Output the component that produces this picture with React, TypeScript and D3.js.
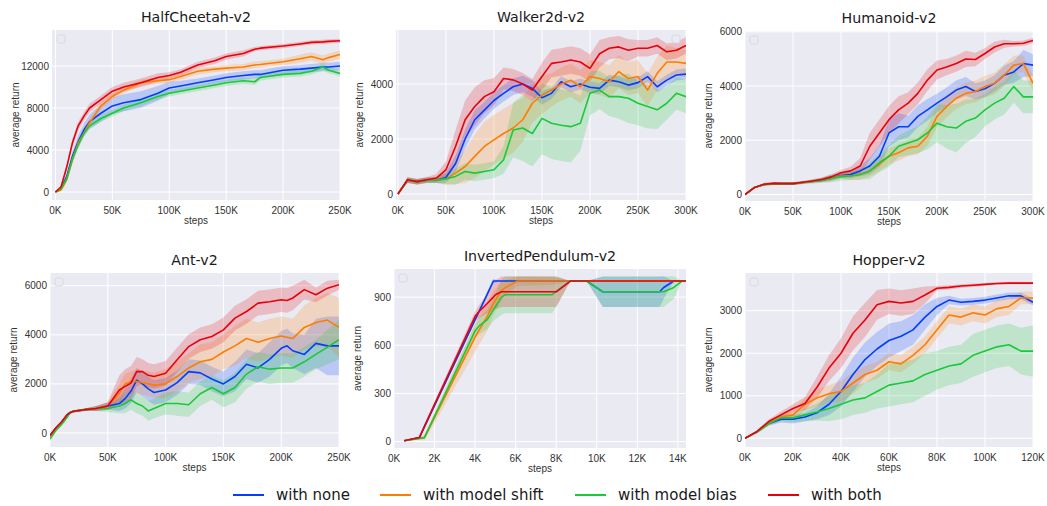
import React from 'react';
import * as d3 from 'd3';

// seaborn "bright" colours, one per variant
const seriesNames = ['with none', 'with model shift', 'with model bias', 'with both'];
const seriesColors = ['#023eff', '#ff7c00', '#1ac938', '#e8000b'];

// ---- HalfCheetah-v2 (steps in K, return in thousands)
const hcSteps = [0, 5, 10, 15, 20, 25, 30, 40, 50, 60, 75, 90, 100, 110, 125, 140, 150, 165, 175, 180, 200, 215, 225, 235, 240, 250];
const hcNone = [0, 0.3, 1.5, 3.4, 4.8, 5.9, 6.7, 7.5, 8.2, 8.5, 8.8, 9.4, 9.9, 10.1, 10.4, 10.7, 10.9, 11.1, 11.2, 11.2, 11.6, 11.7, 11.8, 11.9, 11.9, 12.0];
const hcShift = [0, 0.2, 1.2, 3.1, 4.7, 5.6, 6.6, 8.2, 9.1, 9.7, 10.4, 10.6, 10.7, 11.0, 11.5, 11.7, 11.8, 11.9, 12.1, 12.15, 12.4, 12.7, 12.9, 12.6, 12.8, 13.1];
const hcBias = [0, 0.3, 1.3, 3.2, 4.5, 5.6, 6.3, 7.0, 7.5, 8.0, 8.5, 9.1, 9.4, 9.6, 9.9, 10.2, 10.4, 10.6, 10.5, 10.9, 11.2, 11.3, 11.5, 11.9, 11.6, 11.3];
const hcBoth = [0, 0.5, 2.4, 4.7, 6.3, 7.2, 8.0, 8.8, 9.6, 10.0, 10.4, 10.9, 11.1, 11.4, 12.1, 12.5, 12.9, 13.2, 13.6, 13.7, 13.9, 14.1, 14.25, 14.3, 14.35, 14.4];
const hcNoneSd = [0, 0.1, 0.3, 0.5, 0.6, 0.6, 0.7, 0.8, 0.8, 0.8, 0.8, 0.7, 0.6, 0.5, 0.4, 0.4, 0.4, 0.4, 0.4, 0.4, 0.4, 0.4, 0.4, 0.4, 0.4, 0.4];
const hcShiftSd = [0, 0.1, 0.3, 0.4, 0.4, 0.4, 0.4, 0.4, 0.3, 0.3, 0.3, 0.3, 0.3, 0.3, 0.3, 0.3, 0.3, 0.3, 0.3, 0.3, 0.3, 0.4, 0.4, 0.4, 0.4, 0.4];
const hcBiasSd = [0, 0.1, 0.3, 0.4, 0.4, 0.3, 0.3, 0.3, 0.3, 0.3, 0.3, 0.3, 0.3, 0.3, 0.3, 0.3, 0.3, 0.3, 0.3, 0.3, 0.3, 0.3, 0.3, 0.3, 0.3, 0.3];
const hcBothSd = [0, 0.1, 0.3, 0.4, 0.4, 0.4, 0.4, 0.4, 0.4, 0.4, 0.4, 0.4, 0.3, 0.3, 0.3, 0.3, 0.3, 0.3, 0.2, 0.2, 0.2, 0.2, 0.2, 0.2, 0.2, 0.2];

// ---- Walker2d-v2
const wkSteps = d3.range(0, 301, 10);
const wkNone = [0, 0.5, 0.45, 0.5, 0.5, 0.6, 1.1, 2.0, 2.7, 3.05, 3.4, 3.66, 3.9, 4.0, 3.84, 3.5, 3.66, 4.08, 3.9, 4.0, 3.88, 3.84, 4.14, 4.08, 3.96, 4.05, 4.27, 3.9, 4.14, 4.33, 4.36];
const wkShift = [0, 0.5, 0.45, 0.5, 0.5, 0.55, 0.76, 1.0, 1.37, 1.73, 1.97, 2.2, 2.4, 2.7, 3.3, 3.6, 3.78, 4.0, 4.14, 3.9, 4.27, 4.2, 4.08, 4.45, 4.2, 4.27, 3.78, 4.39, 4.8, 4.8, 4.75];
const wkBias = [0, 0.5, 0.45, 0.5, 0.5, 0.55, 0.64, 0.82, 0.76, 0.82, 0.88, 1.24, 2.33, 2.4, 2.2, 2.75, 2.57, 2.5, 2.45, 2.57, 3.66, 3.78, 3.54, 3.54, 3.48, 3.3, 3.18, 3.06, 3.3, 3.66, 3.54];
const wkBoth = [0, 0.52, 0.45, 0.52, 0.58, 0.88, 1.73, 2.7, 3.18, 3.54, 3.72, 4.2, 4.15, 4.0, 3.78, 4.27, 4.75, 4.8, 4.87, 4.8, 4.57, 5.1, 5.3, 5.35, 5.23, 5.3, 5.3, 5.4, 5.17, 5.23, 5.4];
const wkNoneSd = [0, 0.1, 0.1, 0.1, 0.1, 0.2, 0.3, 0.35, 0.35, 0.3, 0.3, 0.3, 0.3, 0.3, 0.3, 0.25, 0.2, 0.2, 0.2, 0.2, 0.2, 0.2, 0.2, 0.2, 0.2, 0.2, 0.2, 0.2, 0.2, 0.2, 0.2];
const wkShiftSd = [0, 0.1, 0.1, 0.1, 0.1, 0.2, 0.4, 0.6, 0.8, 0.9, 0.9, 0.9, 0.9, 0.8, 0.7, 0.7, 0.6, 0.6, 0.6, 0.6, 0.6, 0.6, 0.6, 0.6, 0.6, 0.6, 0.6, 0.6, 0.6, 0.5, 0.5];
const wkBiasSd = [0, 0.1, 0.1, 0.1, 0.1, 0.2, 0.3, 0.3, 0.3, 0.3, 0.3, 0.5, 1.0, 1.2, 1.2, 1.3, 1.3, 1.3, 1.3, 1.0, 0.8, 0.7, 0.7, 0.8, 0.9, 0.8, 0.8, 0.7, 0.6, 0.6, 0.6];
const wkBothSd = [0, 0.1, 0.1, 0.1, 0.15, 0.3, 0.6, 0.7, 0.7, 0.6, 0.5, 0.4, 0.4, 0.4, 0.4, 0.5, 0.5, 0.5, 0.5, 0.5, 0.5, 0.5, 0.4, 0.4, 0.4, 0.3, 0.3, 0.3, 0.3, 0.3, 0.3];

// ---- Humanoid-v2
const hmSteps = d3.range(0, 301, 10);
const hmNone = [0, 0.26, 0.37, 0.4, 0.4, 0.4, 0.44, 0.48, 0.53, 0.6, 0.7, 0.74, 0.87, 1.05, 1.41, 2.27, 2.5, 2.5, 2.88, 3.12, 3.37, 3.6, 3.85, 3.98, 3.8, 3.9, 4.1, 4.4, 4.52, 4.83, 4.77];
const hmShift = [0, 0.26, 0.37, 0.4, 0.4, 0.4, 0.44, 0.48, 0.53, 0.6, 0.68, 0.68, 0.74, 0.87, 1.11, 1.41, 1.54, 1.72, 1.78, 2.15, 2.88, 3.24, 3.55, 3.73, 3.8, 3.98, 4.1, 4.4, 4.77, 4.83, 4.1];
const hmBias = [0, 0.26, 0.37, 0.4, 0.4, 0.4, 0.44, 0.48, 0.53, 0.6, 0.66, 0.68, 0.74, 0.87, 1.17, 1.41, 1.78, 1.9, 2.02, 2.27, 2.63, 2.5, 2.45, 2.7, 2.82, 3.12, 3.37, 3.55, 3.98, 3.6, 3.6];
const hmBoth = [0, 0.26, 0.38, 0.41, 0.4, 0.4, 0.45, 0.5, 0.55, 0.65, 0.8, 0.87, 1.05, 1.78, 2.27, 2.76, 3.12, 3.37, 3.73, 4.22, 4.59, 4.7, 4.83, 5.0, 4.98, 5.2, 5.44, 5.56, 5.56, 5.58, 5.68];
const hmNoneSd = [0, 0.03, 0.05, 0.05, 0.05, 0.05, 0.05, 0.05, 0.08, 0.1, 0.1, 0.15, 0.2, 0.3, 0.4, 0.5, 0.5, 0.4, 0.4, 0.4, 0.35, 0.35, 0.35, 0.35, 0.3, 0.3, 0.3, 0.35, 0.4, 0.5, 0.4];
const hmShiftSd = [0, 0.03, 0.05, 0.05, 0.05, 0.05, 0.05, 0.05, 0.08, 0.1, 0.1, 0.15, 0.2, 0.2, 0.25, 0.3, 0.3, 0.3, 0.3, 0.35, 0.4, 0.4, 0.4, 0.4, 0.4, 0.4, 0.4, 0.4, 0.35, 0.3, 0.3];
const hmBiasSd = [0, 0.03, 0.05, 0.05, 0.05, 0.05, 0.05, 0.08, 0.1, 0.15, 0.15, 0.15, 0.2, 0.3, 0.35, 0.4, 0.4, 0.45, 0.5, 0.6, 0.7, 0.8, 0.9, 0.8, 0.7, 0.6, 0.6, 0.6, 0.6, 0.6, 0.6];
const hmBothSd = [0, 0.03, 0.05, 0.05, 0.05, 0.05, 0.05, 0.05, 0.08, 0.1, 0.1, 0.15, 0.3, 0.5, 0.5, 0.5, 0.5, 0.4, 0.4, 0.4, 0.35, 0.3, 0.3, 0.3, 0.25, 0.2, 0.2, 0.15, 0.1, 0.1, 0.1];

// ---- Ant-v2
const antSteps = [0, 5, 10, 15, 17, 20, 30, 40, 50, 60, 65, 70, 75, 80, 85, 90, 100, 110, 120, 130, 140, 150, 160, 170, 180, 190, 200, 205, 210, 220, 230, 240, 250];
const antNone = [-0.1, 0.2, 0.45, 0.75, 0.82, 0.88, 0.95, 1.0, 1.1, 1.2, 1.4, 1.7, 2.15, 2.0, 1.8, 1.65, 1.75, 2.05, 2.5, 2.45, 2.2, 2.0, 2.3, 2.8, 2.65, 3.0, 3.45, 3.55, 3.35, 3.2, 3.65, 3.55, 3.55];
const antShift = [-0.15, 0.15, 0.4, 0.7, 0.8, 0.88, 0.95, 1.0, 1.1, 1.6, 2.0, 2.1, 2.1, 2.05, 2.0, 1.95, 2.0, 2.3, 2.65, 2.9, 3.0, 3.3, 3.55, 3.85, 3.7, 3.85, 3.95, 3.9, 3.85, 4.3, 4.5, 4.6, 4.3];
const antBias = [-0.25, 0.1, 0.35, 0.65, 0.8, 0.88, 0.95, 1.0, 1.0, 1.1, 1.2, 1.35, 1.2, 1.1, 0.9, 1.0, 1.2, 1.2, 1.15, 1.6, 1.85, 1.6, 1.85, 2.4, 2.7, 2.6, 2.65, 2.65, 2.65, 2.9, 3.2, 3.5, 3.8];
const antBoth = [-0.1, 0.2, 0.45, 0.75, 0.82, 0.88, 0.95, 1.0, 1.1, 1.75, 1.9, 2.03, 2.5, 2.5, 2.35, 2.3, 2.43, 2.98, 3.52, 3.8, 3.93, 4.2, 4.68, 4.95, 5.29, 5.35, 5.43, 5.4, 5.5, 5.84, 5.63, 5.9, 6.04];
const antNoneSd = [0.05, 0.05, 0.05, 0.05, 0.05, 0.05, 0.05, 0.1, 0.15, 0.3, 0.4, 0.5, 0.5, 0.5, 0.5, 0.5, 0.5, 0.5, 0.5, 0.5, 0.5, 0.5, 0.6, 0.6, 0.6, 0.7, 0.7, 0.7, 0.7, 0.8, 1.0, 1.2, 1.2];
const antShiftSd = [0.05, 0.05, 0.05, 0.05, 0.05, 0.05, 0.05, 0.1, 0.15, 0.4, 0.4, 0.4, 0.5, 0.5, 0.5, 0.5, 0.6, 0.6, 0.6, 0.7, 0.7, 0.7, 0.8, 0.8, 0.8, 0.8, 0.8, 0.8, 0.8, 0.9, 1.0, 1.1, 1.2];
const antBiasSd = [0.05, 0.05, 0.05, 0.05, 0.05, 0.05, 0.05, 0.1, 0.15, 0.3, 0.4, 0.4, 0.4, 0.4, 0.4, 0.4, 0.45, 0.5, 0.5, 0.5, 0.5, 0.55, 0.6, 0.6, 0.6, 0.6, 0.6, 0.6, 0.6, 0.6, 0.6, 0.7, 0.8];
const antBothSd = [0.05, 0.05, 0.05, 0.05, 0.05, 0.05, 0.05, 0.1, 0.15, 0.6, 0.7, 0.7, 0.6, 0.5, 0.5, 0.5, 0.5, 0.5, 0.5, 0.5, 0.5, 0.5, 0.5, 0.5, 0.5, 0.5, 0.5, 0.5, 0.5, 0.4, 0.3, 0.3, 0.2];

// ---- InvertedPendulum-v2 (return in raw units)
const ipSteps = [0.5, 1.25, 1.5, 4.0, 4.2, 4.6, 4.9, 5.0, 5.3, 5.5, 6.1, 7.8, 8.0, 8.7, 9.5, 10.3, 13.1, 13.3, 13.8, 14.2, 14.4];
const ipNone = [5, 25, 92, 759, 812, 919, 1000, 1000, 1000, 1000, 1000, 1000, 1000, 1000, 1000, 933, 933, 960, 1000, 1000, 1000];
const ipShift = [5, 20, 25, 650, 695, 780, 860, 880, 940, 960, 1000, 1000, 1000, 1000, 1000, 1000, 1000, 1000, 1000, 1000, 1000];
const ipBias = [5, 20, 25, 690, 720, 760, 820, 840, 900, 915, 915, 915, 935, 1000, 1000, 933, 933, 933, 960, 1000, 1000];
const ipBoth = [5, 25, 95, 780, 810, 860, 900, 915, 933, 933, 933, 933, 933, 1000, 1000, 1000, 1000, 1000, 1000, 1000, 1000];
const ipNoneSd = [0, 5, 10, 15, 15, 15, 15, 10, 0, 0, 0, 0, 0, 0, 0, 95, 95, 70, 0, 0, 0];
const ipShiftSd = [0, 5, 20, 90, 90, 90, 80, 70, 60, 45, 30, 25, 20, 0, 0, 0, 0, 0, 0, 0, 0];
const ipBiasSd = [0, 5, 10, 40, 50, 60, 70, 80, 110, 115, 115, 115, 95, 0, 0, 95, 95, 95, 70, 0, 0];
const ipBothSd = [0, 5, 15, 30, 40, 60, 80, 90, 95, 95, 95, 95, 95, 0, 0, 0, 0, 0, 0, 0, 0];

// ---- Hopper-v2
const hpSteps = d3.range(0, 121, 5);
const hpNone = [0, 0.15, 0.35, 0.45, 0.45, 0.5, 0.6, 0.8, 1.1, 1.5, 1.85, 2.1, 2.3, 2.4, 2.55, 2.85, 3.1, 3.25, 3.2, 3.22, 3.25, 3.3, 3.35, 3.35, 3.2];
const hpShift = [0, 0.15, 0.35, 0.5, 0.55, 0.8, 0.95, 1.05, 1.1, 1.3, 1.5, 1.6, 1.8, 1.75, 1.95, 2.2, 2.55, 2.9, 2.85, 2.95, 2.9, 3.05, 3.1, 3.3, 3.3];
const hpBias = [0, 0.15, 0.35, 0.48, 0.48, 0.55, 0.62, 0.7, 0.8, 0.9, 0.95, 1.1, 1.25, 1.3, 1.35, 1.5, 1.6, 1.7, 1.75, 1.95, 2.05, 2.15, 2.2, 2.05, 2.05];
const hpBoth = [0, 0.16, 0.4, 0.55, 0.7, 0.82, 1.2, 1.65, 2.0, 2.47, 2.78, 3.14, 3.22, 3.18, 3.22, 3.37, 3.53, 3.55, 3.58, 3.6, 3.62, 3.64, 3.65, 3.65, 3.65];
const hpNoneSd = [0, 0.03, 0.05, 0.08, 0.1, 0.1, 0.15, 0.25, 0.35, 0.4, 0.4, 0.4, 0.4, 0.35, 0.35, 0.3, 0.2, 0.1, 0.08, 0.08, 0.08, 0.08, 0.08, 0.08, 0.08];
const hpShiftSd = [0, 0.03, 0.05, 0.08, 0.1, 0.15, 0.2, 0.2, 0.25, 0.25, 0.2, 0.2, 0.2, 0.2, 0.2, 0.2, 0.2, 0.2, 0.2, 0.2, 0.2, 0.2, 0.2, 0.15, 0.15];
const hpBiasSd = [0, 0.03, 0.05, 0.08, 0.1, 0.15, 0.2, 0.3, 0.35, 0.35, 0.35, 0.4, 0.5, 0.5, 0.5, 0.5, 0.45, 0.45, 0.45, 0.5, 0.5, 0.5, 0.5, 0.55, 0.6];
const hpBothSd = [0, 0.03, 0.05, 0.08, 0.1, 0.15, 0.25, 0.3, 0.35, 0.4, 0.4, 0.35, 0.3, 0.3, 0.3, 0.2, 0.05, 0.05, 0.04, 0.04, 0.03, 0.03, 0.03, 0.03, 0.03];

const panels = [
  {
    title: 'HalfCheetah-v2', box: [52, 30, 340, 200], xDomain: [-3, 250], yDomain: [-760, 15430],
    xTicks: [0, 50, 100, 150, 200, 250], yTicks: [0, 4000, 8000, 12000], unit: 1000, legendRight: false,
    steps: hcSteps, means: [hcNone, hcShift, hcBias, hcBoth], sds: [hcNoneSd, hcShiftSd, hcBiasSd, hcBothSd],
  },
  {
    title: 'Walker2d-v2', box: [396, 30, 686, 200], xDomain: [-2, 300], yDomain: [-218, 5964],
    xTicks: [0, 50, 100, 150, 200, 250, 300], yTicks: [0, 2000, 4000], unit: 1000, legendRight: true,
    steps: wkSteps, means: [wkNone, wkShift, wkBias, wkBoth], sds: [wkNoneSd, wkShiftSd, wkBiasSd, wkBothSd],
  },
  {
    title: 'Humanoid-v2', box: [745, 31, 1033, 201], xDomain: [0, 300], yDomain: [-240, 6030],
    xTicks: [0, 50, 100, 150, 200, 250, 300], yTicks: [0, 2000, 4000, 6000], unit: 1000, legendRight: false,
    steps: hmSteps, means: [hmNone, hmShift, hmBias, hmBoth], sds: [hmNoneSd, hmShiftSd, hmBiasSd, hmBothSd],
  },
  {
    title: 'Ant-v2', box: [50, 273, 339, 447], xDomain: [0, 250], yDomain: [-571, 6518],
    xTicks: [0, 50, 100, 150, 200, 250], yTicks: [0, 2000, 4000, 6000], unit: 1000, legendRight: false,
    steps: antSteps, means: [antNone, antShift, antBias, antBoth], sds: [antNoneSd, antShiftSd, antBiasSd, antBothSd],
  },
  {
    title: 'InvertedPendulum-v2', box: [394, 269, 686, 448], xDomain: [0, 14.4], yDomain: [-40, 1075],
    xTicks: [0, 2, 4, 6, 8, 10, 12, 14], yTicks: [0, 300, 600, 900], unit: 1, legendRight: false,
    steps: ipSteps, means: [ipNone, ipShift, ipBias, ipBoth], sds: [ipNoneSd, ipShiftSd, ipBiasSd, ipBothSd],
  },
  {
    title: 'Hopper-v2', box: [745, 273, 1033, 447], xDomain: [0, 120], yDomain: [-205, 3887],
    xTicks: [0, 20, 40, 60, 80, 100, 120], yTicks: [0, 1000, 2000, 3000], unit: 1000, legendRight: false,
    steps: hpSteps, means: [hpNone, hpShift, hpBias, hpBoth], sds: [hpNoneSd, hpShiftSd, hpBiasSd, hpBothSd],
  },
];

const tickFont = '"Liberation Sans", Arial, sans-serif';
const titleFont = '"DejaVu Sans", sans-serif';

function Panel({ p, idx }) {
  const [x0, y0, x1, y1] = p.box;
  const x = d3.scaleLinear().domain(p.xDomain).range([x0, x1]);
  const y = d3.scaleLinear().domain(p.yDomain).range([y1, y0]);
  const clipId = `clip-${idx}`;

  const rows = (k) => p.steps.map((s, i) => ({ s, m: p.means[k][i] * p.unit, sd: p.sds[k][i] * p.unit }));
  const line = d3.line().x((d) => x(d.s)).y((d) => y(d.m));
  const band = d3.area().x((d) => x(d.s)).y0((d) => y(d.m - d.sd)).y1((d) => y(d.m + d.sd));

  return (
    <g>
      <defs>
        <clipPath id={clipId}>
          <rect x={x0} y={y0} width={x1 - x0} height={y1 - y0} />
        </clipPath>
      </defs>
      <rect x={x0} y={y0} width={x1 - x0} height={y1 - y0} fill="#eaeaf2" />
      {p.xTicks.map((t) => (
        <line key={`gx${t}`} x1={x(t)} x2={x(t)} y1={y0} y2={y1} stroke="#fff" strokeWidth={1} />
      ))}
      {p.yTicks.map((t) => (
        <line key={`gy${t}`} x1={x0} x2={x1} y1={y(t)} y2={y(t)} stroke="#fff" strokeWidth={1} />
      ))}
      <g clipPath={`url(#${clipId})`}>
        {seriesColors.map((c, k) => (
          <path key={`b${k}`} d={band(rows(k))} fill={c} fillOpacity={0.2} stroke="none" />
        ))}
        {seriesColors.map((c, k) => (
          <path key={`l${k}`} d={line(rows(k))} fill="none" stroke={c} strokeWidth={1.6} strokeLinejoin="round" />
        ))}
      </g>
      {/* empty legend box matplotlib leaves behind */}
      <rect x={p.legendRight ? x1 - 14 : x0 + 5} y={y0 + 5} width={8} height={8} rx={2}
        fill="#eaeaf2" stroke="#d6d6de" strokeWidth={0.8} />
      {p.xTicks.map((t) => (
        <text key={`tx${t}`} x={x(t)} y={y1 + 14} textAnchor="middle" fontSize={10}
          fontFamily={tickFont} fill="#333">{`${t}K`}</text>
      ))}
      {p.yTicks.map((t) => (
        <text key={`ty${t}`} x={x0 - 3} y={y(t) + 3.6} textAnchor="end" fontSize={10}
          fontFamily={tickFont} fill="#333">{t}</text>
      ))}
      <text x={(x0 + x1) / 2} y={y1 + 24} textAnchor="middle" fontSize={10}
        fontFamily={tickFont} fill="#333">steps</text>
      <text transform={`translate(${x0 - 33},${(y0 + y1) / 2}) rotate(-90)`} textAnchor="middle"
        fontSize={10} fontFamily={tickFont} fill="#333">average return</text>
      <text x={(x0 + x1) / 2} y={y0 - 8} textAnchor="middle" fontSize={14.2}
        fontFamily={titleFont} fill="#1a1a1a">{p.title}</text>
    </g>
  );
}

const legendX = [233, 380, 575, 768];

export default function App() {
  return (
    <svg width={1047} height={506} style={{ position: 'absolute', left: 0, top: 0, background: '#fff' }}>
      {panels.map((p, i) => (
        <Panel key={p.title} p={p} idx={i} />
      ))}
      {seriesNames.map((n, k) => (
        <g key={n}>
          <line x1={legendX[k]} x2={legendX[k] + 31} y1={495} y2={495} stroke={seriesColors[k]} strokeWidth={2} />
          <text x={legendX[k] + 43} y={500} fontSize={15} fontFamily={titleFont} fill="#1a1a1a">{n}</text>
        </g>
      ))}
    </svg>
  );
}
